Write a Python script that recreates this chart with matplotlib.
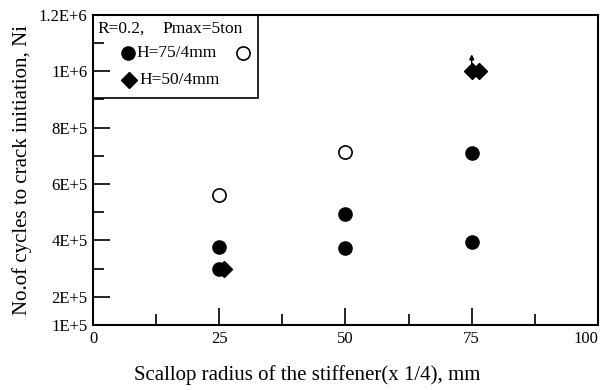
import matplotlib
matplotlib.use("Agg")
from matplotlib import pyplot as plt
from matplotlib.patches import Rectangle

plt.rcParams['font.family'] = ['Liberation Serif', 'DejaVu Serif']

# H=75/4mm, crack initiation (filled) and open markers
x_filled = [25, 25, 50, 50, 75, 75]
y_filled = [3.78e5, 3.0e5, 4.94e5, 3.74e5, 7.09e5, 3.93e5]
x_open = [25, 50]
y_open = [5.6e5, 7.13e5]
# H=50/4mm
x_diam = [26, 75, 76.5]
y_diam = [3.0e5, 1.0e6, 1.0e6]
# run-out (no crack) marker
x_runout = 75
y_runout = 1.0e6

y_major = [1e5, 2e5, 4e5, 6e5, 8e5, 1e6, 1.2e6]
y_major_labels = ['1E+5', '2E+5', '4E+5', '6E+5', '8E+5', '1E+6', '1.2E+6']
y_minor = [3e5, 5e5, 7e5, 9e5, 1.1e6]
x_major = [0, 25, 50, 75, 100]
x_minor = [12.5, 37.5, 62.5, 87.5]

fig = plt.figure(figsize=(6.04, 3.9), dpi=100)
ax = fig.add_axes([0.154, 0.1667, 0.836, 0.795])

ms = 9.5
ax.plot(x_filled, y_filled, 'o', ms=ms, color='black', mec='black')
ax.plot(x_open, y_open, 'o', ms=ms, mfc='white', mec='black', mew=1.2)
ax.plot(x_diam, y_diam, 'D', ms=ms * 0.85, color='black')
ax.annotate('', xy=(x_runout, y_runout + 0.7e5), xytext=(x_runout, y_runout + 0.1e5),
            arrowprops=dict(arrowstyle='-|>', color='black', lw=1.0, mutation_scale=7))

ax.set_xlim(0, 100)
ax.set_ylim(1e5, 1.2e6)
ax.set_xticks(x_major)
ax.set_xticks(x_minor, minor=True)
ax.set_yticks(y_major)
ax.set_yticklabels(y_major_labels)
ax.set_yticks(y_minor, minor=True)
ax.tick_params(axis='both', which='major', direction='in', length=12, width=1.2,
               labelsize=12, pad=4)
ax.tick_params(axis='both', which='minor', direction='in', length=8, width=1.2)
ax.get_xticklabels()[-1].set_ha('right')
for s in ax.spines.values():
    s.set_linewidth(1.5)

ax.set_xlabel('Scallop radius of the stiffener(x 1/4), mm', fontsize=15)
ax.xaxis.set_label_coords(0.424, -0.128)
ax.set_ylabel('No.of cycles to crack initiation, Ni', fontsize=15)
ax.yaxis.set_label_coords(-0.121, 0.5)

# legend box
tr = ax.transAxes
ax.add_patch(Rectangle((0, 0.732), 0.327, 0.268, transform=tr, fill=False,
                       lw=1.2, ec='black', clip_on=False, zorder=3))
ax.text(0.008, 0.955, 'R=0.2,', transform=tr, fontsize=12.5, va='center')
ax.text(0.137, 0.955, 'Pmax=5ton', transform=tr, fontsize=12.5, va='center')
ax.plot([0.069], [0.877], 'o', ms=ms, color='black', transform=tr, clip_on=False)
ax.text(0.087, 0.877, 'H=75/4mm', transform=tr, fontsize=12.5, va='center')
ax.plot([0.297], [0.877], 'o', ms=ms, mfc='white', mec='black', mew=1.2,
        transform=tr, clip_on=False)
ax.plot([0.071], [0.790], 'D', ms=ms * 0.85, color='black', transform=tr, clip_on=False)
ax.text(0.091, 0.790, 'H=50/4mm', transform=tr, fontsize=12.5, va='center')

fig.savefig('out.png', dpi=100)
